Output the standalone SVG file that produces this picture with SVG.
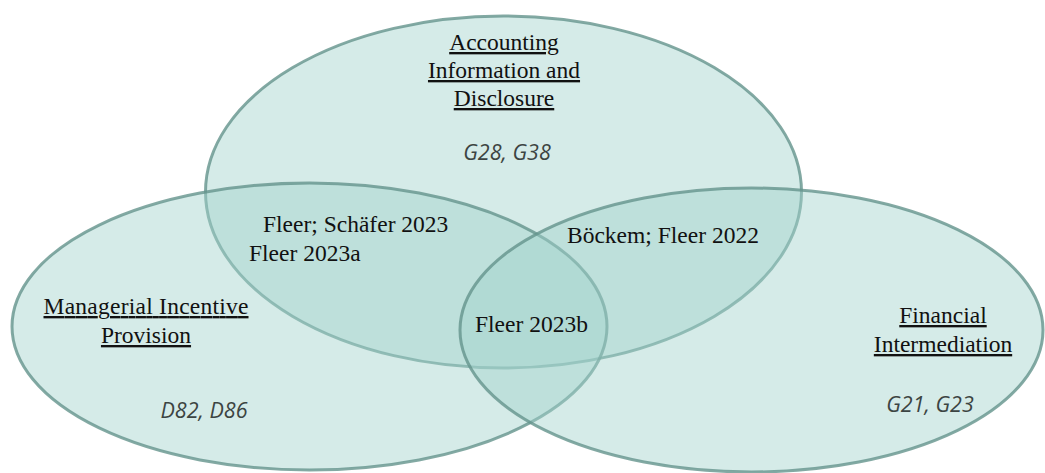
<svg xmlns="http://www.w3.org/2000/svg" width="1045" height="473" viewBox="0 0 1045 473">
<style>
.set{fill:rgb(162,211,204);fill-opacity:0.45;stroke:rgb(100,148,140);stroke-opacity:0.8;stroke-width:3}
.t{font-family:"Liberation Serif","Times New Roman",serif;font-size:23.5px;fill:#111}
.h{text-decoration:underline}
.c{text-anchor:middle}
.code{font-family:"Open Sans","Noto Sans",sans-serif;font-style:italic;font-size:21.5px;fill:#3c4442;text-anchor:middle}
</style>
<rect width="1045" height="473" fill="#fff"/>
<g id="accounting">
<ellipse class="set" cx="503.5" cy="192" rx="298" ry="176"/>
<text class="t c h" x="504" y="50">Accounting</text>
<text class="t c h" x="504" y="78">Information and</text>
<text class="t c h" x="504" y="106">Disclosure</text>
<text class="code" x="507" y="160">G28, G38</text>
</g>
<g id="managerial">
<ellipse class="set" cx="309.5" cy="326.5" rx="297.5" ry="143.5"/>
<text class="t c h" x="146" y="314" textLength="205" lengthAdjust="spacing">Managerial  Incentive</text>
<text class="t c h" x="146" y="343">Provision</text>
<text class="code" x="204" y="418">D82, D86</text>
</g>
<g id="financial">
<ellipse class="set" cx="751.5" cy="330" rx="291.5" ry="142"/>
<text class="t c h" x="943" y="323">Financial</text>
<text class="t c h" x="943" y="352">Intermediation</text>
<text class="code" x="930" y="412">G21, G23</text>
</g>
<g id="overlaps">
<text class="t" x="263" y="232">Fleer; Schäfer 2023</text>
<text class="t" x="249" y="261">Fleer 2023a</text>
<text class="t" x="567" y="243">Böckem; Fleer 2022</text>
<text class="t" x="475" y="332">Fleer 2023b</text>
</g>
<g id="connectors"></g>
</svg>
